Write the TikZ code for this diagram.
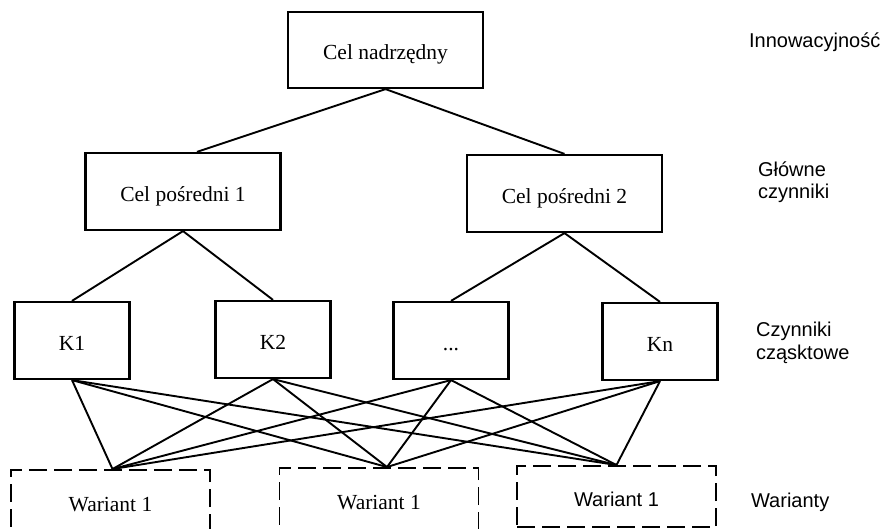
\documentclass[tikz,border=0pt]{standalone}
\usepackage{fontspec}
\setmainfont{Liberation Serif}
\setsansfont{Liberation Sans}

\begin{document}
\begin{tikzpicture}[
		x=1bp, y=-1bp,
		line width=1.9bp,
		every node/.style={rectangle, draw, line width=2.2bp, inner sep=0pt,
			text height=20bp, text depth=0bp,
			font=\fontsize{21.5bp}{26bp}\selectfont},
		cbox/.style={minimum width=195bp, minimum height=77bp},
		kbox/.style={minimum width=115bp, minimum height=77bp},
		wbox/.style={dash pattern=on 18bp off 7bp, line width=1.9bp,
			minimum width=199bp, minimum height=63bp},
		lbl/.style={draw=none, align=left, anchor=base west,
			text height=, text depth=,
			font=\sffamily\fontsize{20bp}{22bp}\selectfont}
	]
  \clip (0,0) rectangle (882,529);
  \node (cel) [cbox, minimum height=76bp] at (385.5, 50) {Cel nadrzędny};
  \node (cp_1) [cbox] at (183, 191.5) {Cel pośredni 1};
  \node (cp_2) [cbox] at (564.5, 193.5) {Cel pośredni 2};
  \node (k_1) [kbox] at (72, 340.5) {K1};
  \node (k_2) [kbox] at (273, 339.5) {K2};
  \node (k_dots) [kbox] at (451, 340.5) {...};
  \node (k_n) [kbox] at (660, 341.5) {Kn};
  \node (w_1) [wbox] at (110.5, 501.5) {Wariant 1};
  \node (w_2) [wbox] at (379, 499.5) {Wariant 1};
  \node (w_3) [wbox, minimum height=61bp, font=\sffamily\fontsize{20bp}{24bp}\selectfont]
    at (616.5, 496.5) {Wariant 1};
  \node (innow) [lbl] at (748, 48) {Innowacyjność};
  \node (glowne) [lbl] at (757, 199) {Główne\\czynniki};
  \node (czast) [lbl] at (755, 359) {Czynniki\\cząsktowe};
  \node (warianty) [lbl] at (750, 507) {Warianty};
  \coordinate (cp_1_top) at ([xshift=14bp]cp_1.north);
  \coordinate (j_1) at ([xshift=2bp]w_1.north);
  \coordinate (j_2) at ([xshift=8bp]w_2.north);
  \coordinate (j_3) at (w_3.north);
  \draw (cel.south) -- (cp_1_top);
  \draw (cel.south) -- (cp_2.north);
  \draw (cp_1.south) -- (k_1.north);
  \draw (cp_1.south) -- (k_2.north);
  \draw (cp_2.south) -- (k_dots.north);
  \draw (cp_2.south) -- (k_n.north);
  \foreach \k in {k_1, k_2, k_dots, k_n}
    \foreach \w in {j_1, j_2, j_3}
      \draw (\k.south) -- (\w);
\end{tikzpicture}
\end{document}
